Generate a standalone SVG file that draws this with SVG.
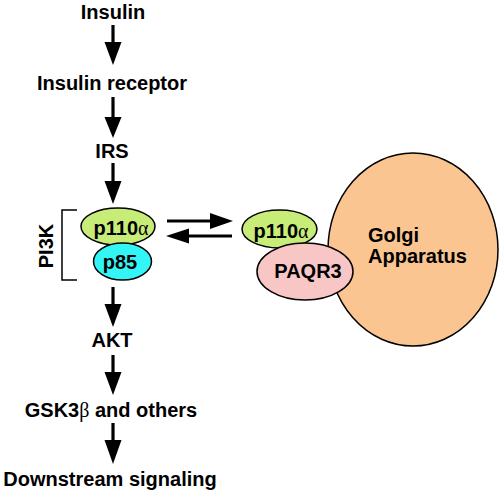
<svg xmlns="http://www.w3.org/2000/svg" width="500" height="491" viewBox="0 0 500 491">
<style>
text{font-family:"Liberation Sans",Arial,sans-serif;font-weight:bold;font-size:20px;fill:#000;text-anchor:middle}
.g{font-family:"Liberation Serif","Times New Roman",serif;font-weight:normal}
.sh{stroke:#000;stroke-width:3.2;fill:none}
.hd{fill:#000;stroke:none}
.el{stroke:#000;stroke-width:1.5}
</style>
<rect width="500" height="491" fill="#fff"/>
<g id="connectors">
<line class="sh" x1="113" y1="25" x2="113" y2="44"/><polygon class="hd" points="104.5,42 121.5,42 113,65"/>
<line class="sh" x1="113" y1="97" x2="113" y2="120"/><polygon class="hd" points="104.5,117 121.5,117 113,138"/>
<line class="sh" x1="113" y1="163" x2="113" y2="183"/><polygon class="hd" points="104.5,181 121.5,181 113,204"/>
<line class="sh" x1="113" y1="287" x2="113" y2="306"/><polygon class="hd" points="104.5,304 121.5,304 113,327"/>
<line class="sh" x1="113" y1="355" x2="113" y2="374"/><polygon class="hd" points="104.5,372 121.5,372 113,395"/>
<line class="sh" x1="113" y1="423" x2="113" y2="442"/><polygon class="hd" points="104.5,440 121.5,440 113,464"/>
<line class="sh" x1="167" y1="221" x2="212" y2="221"/><polygon class="hd" points="210,213 210,229 233,221"/>
<line class="sh" x1="187" y1="236" x2="232" y2="236"/><polygon class="hd" points="189,228.5 189,243.5 166,236"/>
</g>
<g id="golgi"><ellipse class="el" cx="413" cy="249.5" rx="85" ry="96.5" fill="#fac590"/>
<text x="368" y="242" style="text-anchor:start">Golgi</text><text x="368" y="263" style="text-anchor:start">Apparatus</text></g>
<g id="p110a-right"><ellipse class="el" cx="279.5" cy="229" rx="37.5" ry="19" fill="#c8ec78"/><text x="281" y="238">p110<tspan class="g">α</tspan></text></g>
<g id="paqr3"><ellipse class="el" cx="305" cy="271.5" rx="48" ry="28.5" fill="#f9c6c6"/><text x="308" y="278">PAQR3</text></g>
<g id="p110a-left"><ellipse class="el" cx="118" cy="226.5" rx="37" ry="18.5" fill="#c8ec78"/><text x="121" y="235">p110<tspan class="g">α</tspan></text></g>
<g id="p85"><ellipse class="el" cx="122.5" cy="261.5" rx="29" ry="18.5" fill="#33f5f5"/><text x="120" y="269">p85</text></g>
<g id="pi3k"><path d="M77,210 H62 V280 H77" fill="none" stroke="#000" stroke-width="1.5"/>
<text transform="translate(53,246) rotate(-90)">PI3K</text></g>
<g id="insulin"><text x="113" y="19">Insulin</text></g>
<g id="receptor"><text x="112" y="90">Insulin receptor</text></g>
<g id="irs"><text x="112" y="158">IRS</text></g>
<g id="akt"><text x="112" y="347">AKT</text></g>
<g id="gsk"><text x="111" y="417">GSK3<tspan class="g">β</tspan> and others</text></g>
<g id="downstream"><text x="110" y="486">Downstream signaling</text></g>
</svg>
